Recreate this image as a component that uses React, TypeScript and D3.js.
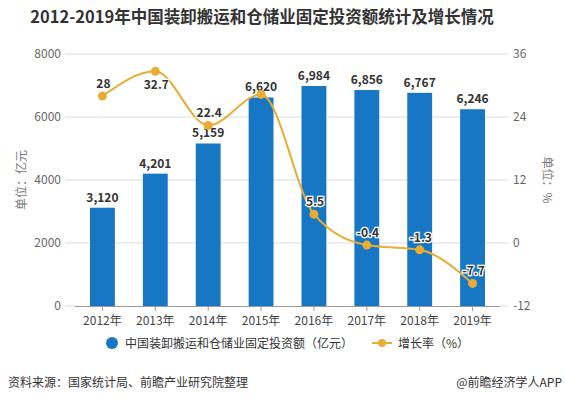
import React from "react";
import * as d3 from "d3";

const years = ["2012年", "2013年", "2014年", "2015年", "2016年", "2017年", "2018年", "2019年"];
const investment = [3120, 4201, 5159, 6620, 6984, 6856, 6767, 6246];
const growth = [28, 32.7, 22.4, 28.3, 5.5, -0.4, -1.3, -7.7];
const growthLabelShown = [true, true, true, false, true, true, true, true];
const growthLabelBelow = [false, true, false, false, false, false, false, false];
const leftTicks = [0, 2000, 4000, 6000, 8000];
const rightTicks = [-12, 0, 12, 24, 36];

const W = 565;
const H = 407;
const FONT = "'Noto Sans CJK SC', 'Noto Sans', sans-serif";
const BAR = "#1777c4";
const LINE = "#e9ac34";

export default function App() {
  const x = d3.scaleBand<string>().domain(years).range([76, 499]).paddingInner(0.53).paddingOuter(0.265);
  const yL = d3.scaleLinear().domain([0, 8000]).range([306, 54]);
  const yR = d3.scaleLinear().domain([-12, 36]).range([306, 54]);
  const cx = (i: number) => (x(years[i]) as number) + x.bandwidth() / 2;
  const fmt = d3.format(",");
  const line = d3
    .line<number>()
    .x((_, i) => cx(i))
    .y((d) => yR(d))
    .curve(d3.curveMonotoneX);

  return (
    <svg width={W} height={H} style={{ position: "absolute", left: 0, top: 0, fontFamily: FONT }}>
      <rect width={W} height={H} fill="#fff" />
      <text x={262} y={23} textAnchor="middle" fontSize={16.5} fontWeight="bold" fill="#333">
        2012-2019年中国装卸搬运和仓储业固定投资额统计及增长情况
      </text>
      {leftTicks.map((t) => (
        <g key={"l" + t}>
          {t !== 0 && <line x1={65} x2={508} y1={yL(t)} y2={yL(t)} stroke="#dcdcdc" strokeWidth={1} />}
          <text x={61} y={yL(t) + 4} textAnchor="end" fontSize={12} fill="#666">
            {t}
          </text>
        </g>
      ))}
      <line x1={65} x2={75} y1={306} y2={306} stroke="#dcdcdc" />
      <line x1={500} x2={508} y1={306} y2={306} stroke="#dcdcdc" />
      {rightTicks.map((t) => (
        <text key={"r" + t} x={513} y={yR(t) + 4} textAnchor="start" fontSize={12} fill="#666">
          {t}
        </text>
      ))}
      <text transform="translate(26,180) rotate(-90)" textAnchor="middle" fontSize={12} fill="#777">
        单位：亿元
      </text>
      <text transform="translate(543,180) rotate(90)" textAnchor="middle" fontSize={12} fill="#777">
        单位：%
      </text>
      {investment.map((v, i) => (
        <rect key={"b" + i} x={x(years[i])} y={yL(v)} width={x.bandwidth()} height={306 - yL(v)} fill={BAR} />
      ))}
      <line x1={75} x2={500} y1={306.5} y2={306.5} stroke="#999" />
      {years.map((yr, i) => (
        <g key={"x" + i}>
          <line x1={cx(i)} x2={cx(i)} y1={306} y2={311} stroke="#999" />
          <text x={cx(i)} y={325} textAnchor="middle" fontSize={12} fill="#444">
            {yr}
          </text>
        </g>
      ))}
      {investment.map((v, i) => (
        <text key={"bl" + i} x={cx(i)} y={yL(v) - 6} textAnchor="middle" fontSize={12} fontWeight="bold" fill="#333">
          {fmt(v)}
        </text>
      ))}
      <path d={line(growth) || ""} fill="none" stroke={LINE} strokeWidth={2} />
      {growth.map((v, i) => (
        <circle key={"p" + i} cx={cx(i)} cy={yR(v)} r={4.5} fill={LINE} />
      ))}
      {growth.map((v, i) =>
        growthLabelShown[i] ? (
          <text
            key={"gl" + i}
            x={cx(i) + 1}
            y={growthLabelBelow[i] ? yR(v) + 18 : yR(v) - 8}
            textAnchor="middle"
            fontSize={12}
            fontWeight="bold"
            fill="#333"
            stroke="#fff"
            strokeWidth={2.5}
            paintOrder="stroke"
          >
            {v}
          </text>
        ) : null
      )}
      <circle cx={112} cy={343} r={6} fill={BAR} />
      <text x={125} y={347.5} fontSize={12} fill="#333">
        中国装卸搬运和仓储业固定投资额（亿元）
      </text>
      <line x1={372} x2={392} y1={343} y2={343} stroke={LINE} strokeWidth={2} />
      <circle cx={382} cy={343} r={4} fill={LINE} />
      <text x={398} y={347.5} fontSize={12} fill="#333">
        增长率（%）
      </text>
      <text x={8} y={387} fontSize={12} fill="#333">
        资料来源：国家统计局、前瞻产业研究院整理
      </text>
      <text x={562} y={387} textAnchor="end" fontSize={12} fill="#333">
        @前瞻经济学人APP
      </text>
    </svg>
  );
}
